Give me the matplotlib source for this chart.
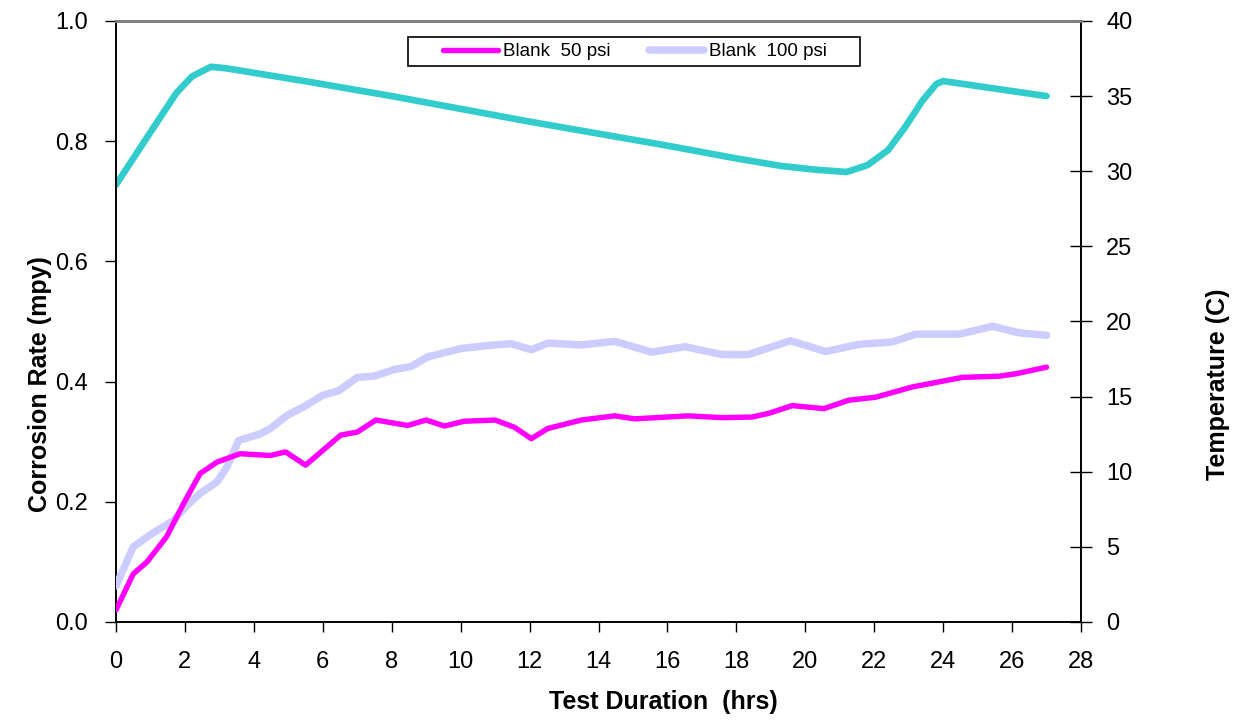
import matplotlib
matplotlib.use("Agg")
import matplotlib.pyplot as plt
from matplotlib.patches import Rectangle

plt.rcParams["font.family"] = ["Liberation Sans", "DejaVu Sans"]

# Blank 50 psi corrosion rate (mpy)
hrs_50 = [0, 0.5, 0.9, 1.47, 1.96, 2.44, 2.93, 3.6, 4.48, 4.92, 5.5, 6.52, 7.0,
          7.54, 8.46, 9.0, 9.53, 10.1, 11.0, 11.56, 12.05, 12.53, 13.5, 14.47,
          15.05, 16.6, 17.58, 18.45, 18.93, 19.62, 20.54, 21.26, 22.04, 23.1,
          24.56, 25.63, 26.11, 27.0]
rate_50 = [0.02, 0.08, 0.10, 0.142, 0.197, 0.247, 0.266, 0.280, 0.277, 0.283,
           0.261, 0.311, 0.316, 0.336, 0.327, 0.336, 0.326, 0.334, 0.336, 0.324,
           0.305, 0.322, 0.336, 0.343, 0.338, 0.343, 0.340, 0.341, 0.347, 0.360,
           0.355, 0.369, 0.374, 0.391, 0.407, 0.409, 0.413, 0.424]

# Blank 100 psi corrosion rate (mpy)
hrs_100 = [0, 0.5, 0.99, 1.67, 2.06, 2.44, 2.93, 3.22, 3.56, 4.19, 4.48, 4.97,
           5.45, 5.99, 6.47, 7.0, 7.49, 8.07, 8.56, 9.04, 10.01, 10.79, 11.47,
           12.05, 12.53, 13.5, 14.47, 15.54, 16.51, 17.58, 18.35, 19.57, 20.59,
           21.56, 22.53, 23.21, 24.47, 25.44, 26.21, 27.0]
rate_100 = [0.06, 0.125, 0.145, 0.169, 0.194, 0.214, 0.233, 0.258, 0.302, 0.313,
            0.322, 0.344, 0.358, 0.377, 0.385, 0.407, 0.409, 0.420, 0.425, 0.441,
            0.455, 0.460, 0.463, 0.453, 0.464, 0.461, 0.467, 0.449, 0.458, 0.445,
            0.445, 0.468, 0.450, 0.462, 0.466, 0.479, 0.479, 0.492, 0.481, 0.477]

# temperature (C)
hrs_t = [0, 0.8, 1.75, 2.2, 2.75, 3.2, 5.6, 8, 10, 12, 14, 16, 18, 19.3, 20.3,
         21.2, 21.8, 22.4, 22.9, 23.4, 23.8, 24.0, 27.0]
temp = [29.1, 31.9, 35.2, 36.3, 36.95, 36.85, 35.95, 35.0, 34.15, 33.3, 32.5,
        31.7, 30.85, 30.35, 30.1, 29.95, 30.4, 31.4, 32.95, 34.7, 35.8, 36.0, 35.0]

fig = plt.figure(figsize=(12.46, 7.23), dpi=100)
ax = fig.add_axes([0.0931, 0.1397, 0.7745, 0.8313])
ax2 = ax.twinx()

kw = dict(solid_joinstyle="round", solid_capstyle="round")
ax2.plot(hrs_t, temp, color="#33CCCC", lw=4.8, **kw)
ax.plot(hrs_100, rate_100, color="#CCCCFF", lw=5.4, label="Blank  100 psi", zorder=3, **kw)
ax.plot(hrs_50, rate_50, color="#FF00FF", lw=3.9, label="Blank  50 psi", zorder=4, **kw)
ax.set_zorder(ax2.get_zorder() + 1); ax.patch.set_visible(False)

ax.set_xlim(0, 28); ax.set_ylim(0, 1.0)
ax2.set_ylim(0, 40)
ax.set_xticks(range(0, 29, 2))
ax.set_yticks([0, 0.2, 0.4, 0.6, 0.8, 1.0])
ax.set_yticklabels([f"{v:.1f}" for v in [0, 0.2, 0.4, 0.6, 0.8, 1.0]])
ax2.set_yticks(range(0, 41, 5))

ax.tick_params(axis="y", direction="out", length=8, width=1, pad=12, labelsize=17)
ax.tick_params(axis="x", direction="out", length=7, width=1, pad=14, labelsize=17)
ax2.tick_params(axis="y", direction="inout", length=16, width=1, pad=10, labelsize=17)

for a in (ax, ax2):
    for s in ("left", "bottom", "right"):
        a.spines[s].set_color("black"); a.spines[s].set_linewidth(1.2)
    a.spines["top"].set_color("#808080"); a.spines["top"].set_linewidth(2)

ax.set_xlabel("Test Duration  (hrs)", fontsize=18, fontweight="bold")
ax.xaxis.set_label_coords(0.567, -0.113)
ax.set_ylabel("Corrosion Rate (mpy)", fontsize=18, fontweight="bold")
ax.yaxis.set_label_coords(-0.0663, 0.396)
ax2.set_ylabel("Temperature (C)", fontsize=18, fontweight="bold")
ax2.yaxis.set_label_coords(1.1295, 0.396)

# legend: frame drawn separately so its padding matches the original
ax.add_patch(Rectangle((0.3026, 0.9251), 0.4684, 0.0483, transform=ax.transAxes,
                       fill=True, facecolor="white", edgecolor="black", lw=1.2,
                       zorder=5, clip_on=False))
h, l = ax.get_legend_handles_labels()
leg = ax.legend(h[::-1], l[::-1], loc="center left", bbox_to_anchor=(0.3389, 0.949),
                ncol=2, fontsize=13.5, frameon=False, handlelength=2.93,
                handletextpad=0.27, columnspacing=2.03, borderpad=0, borderaxespad=0)
leg.set_zorder(6)

fig.savefig("out.png", dpi=100)
